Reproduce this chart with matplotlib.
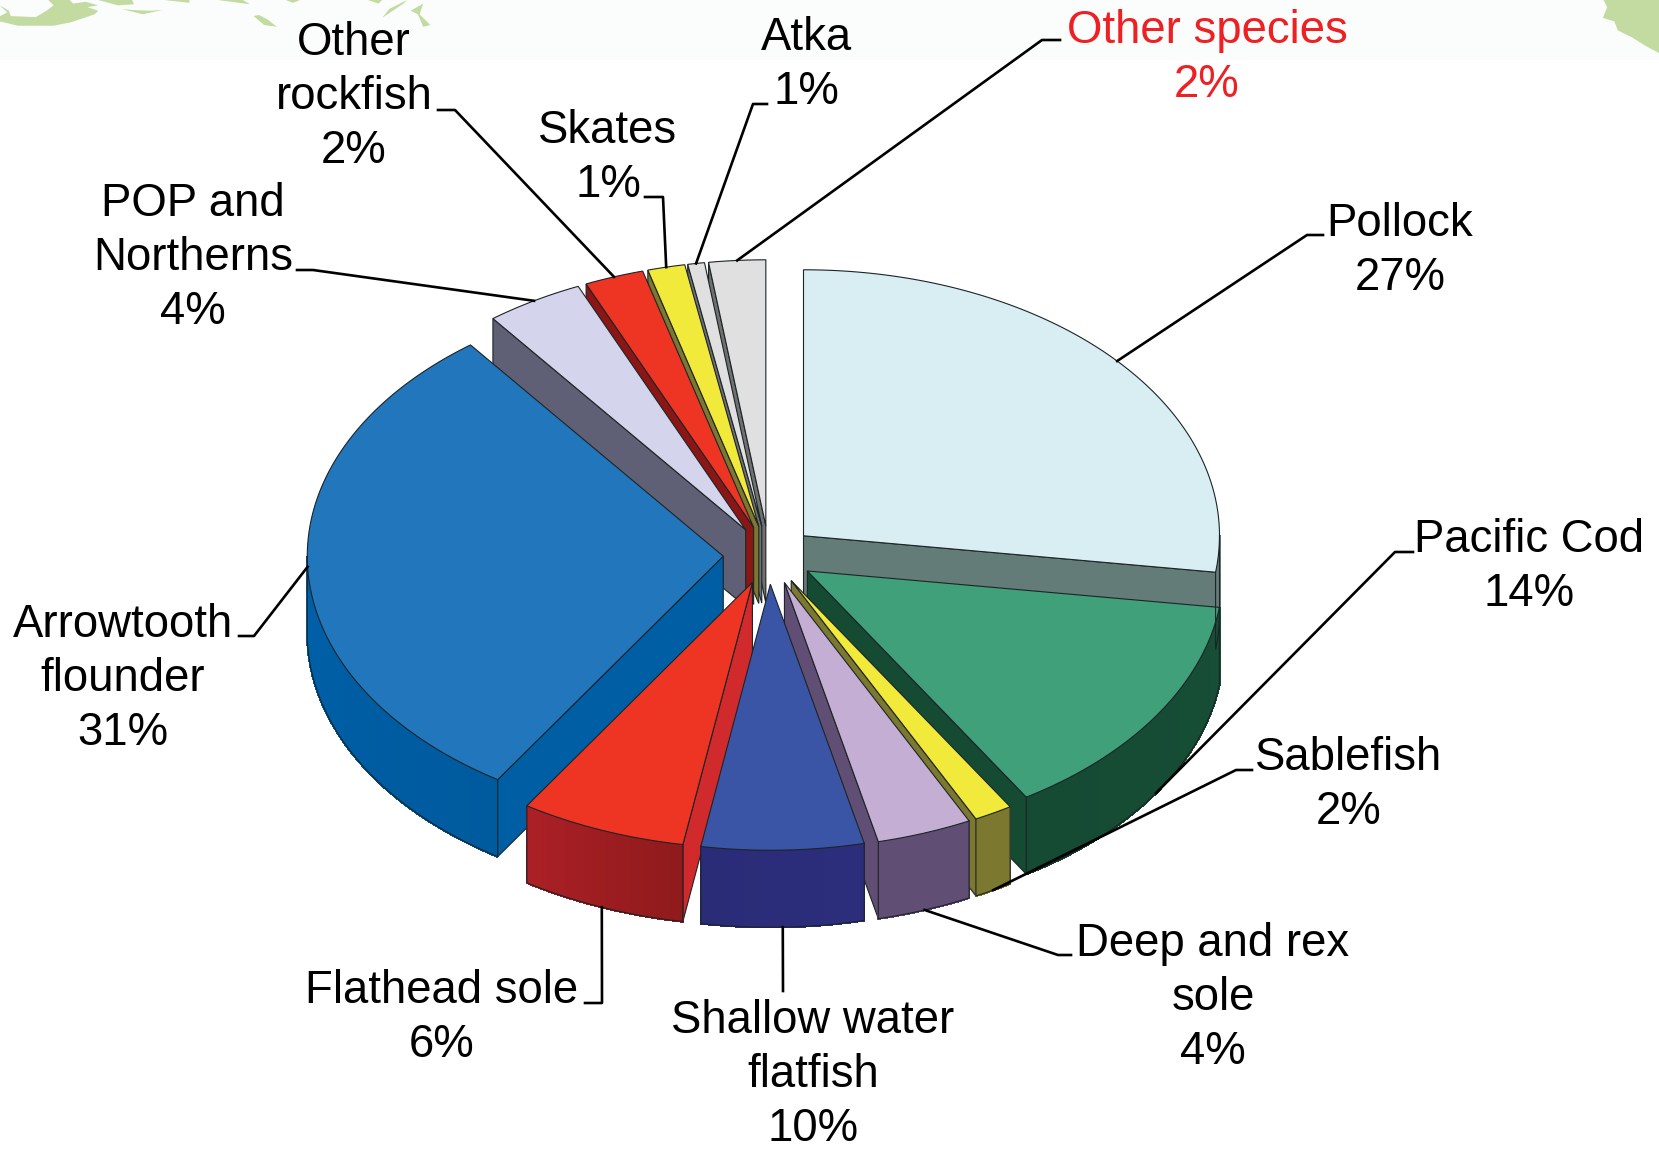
import numpy as np
import matplotlib
matplotlib.use("Agg")
import matplotlib.pyplot as plt
from matplotlib.colors import to_rgb

plt.rcParams["font.family"] = ["Liberation Sans", "DejaVu Sans"]

# slices clockwise from 12 o'clock
species = ["Pollock", "Pacific Cod", "Sablefish", "Deep and rex\nsole", "Shallow water\nflatfish",
           "Flathead sole", "Arrowtooth\nflounder", "POP and\nNortherns", "Other\nrockfish",
           "Skates", "Atka", "Other species"]
printed_pct = [27, 14, 2, 4, 10, 6, 31, 4, 2, 1, 1, 2]
# the drawn wedges do not follow the printed numbers, these are read off the wedge sizes
drawn_share = [27.2, 14.0, 1.5, 3.7, 6.3, 6.45, 30.5, 3.8, 2.3, 1.45, 0.65, 2.2]

top_col = ["#d9eef3", "#40a07a", "#f2ea3a", "#c4aed4", "#3a55a5", "#ee3524",
           "#2176bc", "#d4d5ec", "#ee3524", "#f2ea3a", "#e0e0e0", "#e0e0e0"]
face_col = ["#647c78", "#154a33", "#7c7830", "#604e74", "#2a2c78", "#d02a2c",
            "#005ea4", "#5f6076", "#8a1616", "#7c7830", "#707070", "#707070"]
wall_left = ["#647c78", "#154a33", "#7c7830", "#604e74", "#2a2c78", "#ab2026",
             "#0060a8", "#5f6076", "#8a1616", "#7c7830", "#707070", "#707070"]
wall_right = ["#647c78", "#174e36", "#7c7830", "#604e74", "#2c2e7c", "#8f1a1c",
              "#005a9e", "#5f6076", "#8a1616", "#7c7830", "#707070", "#707070"]

# pie geometry, in pixels of the image
cx, cy = 769, 555
rx, ry = 416, 266
depth = 77
explode = 0.11
edge = "#1c2426"

# label centres and leader elbows
label_xy = [(1400, 251), (1529, 567), (1349, 785), (1213, 998), (813, 1075), (442, 1018),
            (123, 679), (193, 258), (354, 97), (608, 158), (806, 65), (1207, 58)]
leader_bends = [[(1307, 235), (1323, 235)], [(1395, 552), (1413, 552)], [(1236, 770), (1252, 770)],
                [(1058, 955), (1071, 955)], [(783, 991)], [(602, 1003), (585, 1003)],
                [(254, 636), (239, 636)], [(313, 270), (297, 270)], [(455, 110), (438, 110)],
                [(663, 197), (645, 197)], [(753, 104), (767, 104)], [(1042, 40), (1060, 40)]]

# map fragments, traced from the top strip (crop coordinates, 1568 wide per 560 px)
land_left = [[(0, 15), (20, 35), (0, 45), (0, 60), (50, 72), (150, 72), (200, 62), (265, 40), (275, 30),
              (245, 20), (275, 15), (240, 5), (205, 10), (195, 0), (135, 0), (150, 15), (130, 30),
              (100, 48), (30, 45), (25, 30)],
             [(275, 0), (330, 15), (375, 12), (370, 0)],
             [(340, 25), (400, 40), (455, 28), (420, 30), (370, 28)],
             [(460, 0), (530, 8), (530, 0)],
             [(610, 0), (700, 12), (680, 0)],
             [(710, 45), (740, 70), (775, 75), (750, 55), (725, 42)],
             [(800, 0), (820, 8), (840, 0)],
             [(1030, 0), (1060, 10), (1070, 0)],
             [(1070, 50), (1130, 10), (1140, 0), (1090, 25)],
             [(1150, 30), (1185, 10), (1175, 40), (1205, 70), (1185, 75), (1170, 40)]]
land_right = [(1410, 0), (1420, 20), (1408, 50), (1440, 60), (1450, 85), (1490, 105), (1530, 130),
              (1568, 150), (1568, 0)]
crop_scale = 560 / 1568

fig = plt.figure(figsize=(16.59, 11.5), dpi=100)
ax = fig.add_axes([0, 0, 1, 1])
ax.set_xlim(0, 1659)
ax.set_ylim(1150, 0)
ax.axis("off")

# pale map strip behind the chart
ax.fill([0, 1659, 1659, 0], [0, 0, 60, 60], color="#fafdfc", lw=0, zorder=0)
for blob in land_left:
    ax.fill([p[0] * crop_scale for p in blob], [p[1] * crop_scale for p in blob],
            color="#c3dba0", lw=0, zorder=1)
ax.fill([1100 + p[0] * crop_scale for p in land_right], [p[1] * crop_scale for p in land_right],
        color="#c3dba0", lw=0, zorder=1)

bounds = np.cumsum([0] + drawn_share) / sum(drawn_share) * 360


def rim(ax_x, ax_y, deg):
    t = np.radians(deg)
    return ax_x + rx * np.sin(t), ax_y - ry * np.cos(t)


def draw_slice(i):
    a0, a1 = bounds[i], bounds[i + 1]
    mid = np.radians((a0 + a1) / 2)
    ox = cx + explode * rx * np.sin(mid)
    oy = cy - explode * ry * np.cos(mid)
    angles = np.linspace(a0, a1, max(int(a1 - a0) * 2, 4))

    # cut faces, only the ones turned to the viewer
    if a1 < 180:
        x, y = rim(ox, oy, a1)
        ax.fill([ox, x, x, ox], [oy, y, y + depth, oy + depth], fc=face_col[i], ec=edge, lw=0.8)
    if a0 > 180:
        x, y = rim(ox, oy, a0)
        ax.fill([ox, x, x, ox], [oy, y, y + depth, oy + depth], fc=face_col[i], ec=edge, lw=0.8)

    # outer wall, small strips so the shading can change along it
    front = angles[(angles > 90) & (angles < 270)]
    if a0 < 90 < a1:
        front = np.r_[90, front]
    if a0 < 270 < a1:
        front = np.r_[front, 270]
    if len(front) > 1:
        c0, c1 = np.array(to_rgb(wall_right[i])), np.array(to_rgb(wall_left[i]))
        for k in range(len(front) - 1):
            f = k / max(len(front) - 2, 1)
            x0, y0 = rim(ox, oy, front[k])
            x1, y1 = rim(ox, oy, front[k + 1])
            ax.fill([x0, x1, x1, x0], [y0, y1, y1 + depth, y0 + depth], color=c0 + (c1 - c0) * f,
                    lw=1, antialiased=False)
        wx, wy = rim(ox, oy, front)
        ax.plot(np.r_[wx[0], wx, wx[-1]], np.r_[wy[0], wy + depth, wy[-1]], color=edge, lw=0.8)

    # top
    x, y = rim(ox, oy, angles)
    ax.fill(np.r_[ox, x], np.r_[oy, y], fc=top_col[i], ec=edge, lw=0.8)


# back slices first
for i in sorted(range(len(species)), key=lambda n: -abs((bounds[n] + bounds[n + 1]) / 2 - 180)):
    draw_slice(i)

# leaders start at the middle of each rim, on the bottom edge for the front slices
for i, bends in enumerate(leader_bends):
    mid = (bounds[i] + bounds[i + 1]) / 2
    t = np.radians(mid)
    ox = cx + explode * rx * np.sin(t)
    oy = cy - explode * ry * np.cos(t)
    x, y = rim(ox, oy, mid)
    if 100 < mid < 260:
        y += depth
    ax.plot([x] + [p[0] for p in bends], [y] + [p[1] for p in bends], color="black", lw=1.9, zorder=5)

for i, name in enumerate(species):
    col = "#ee2024" if name == "Other species" else "black"
    ax.text(label_xy[i][0], label_xy[i][1], f"{name}\n{printed_pct[i]}%", ha="center", va="center",
            fontsize=32.8, color=col, linespacing=1.3, zorder=6)

fig.savefig("out.png", dpi=100)
